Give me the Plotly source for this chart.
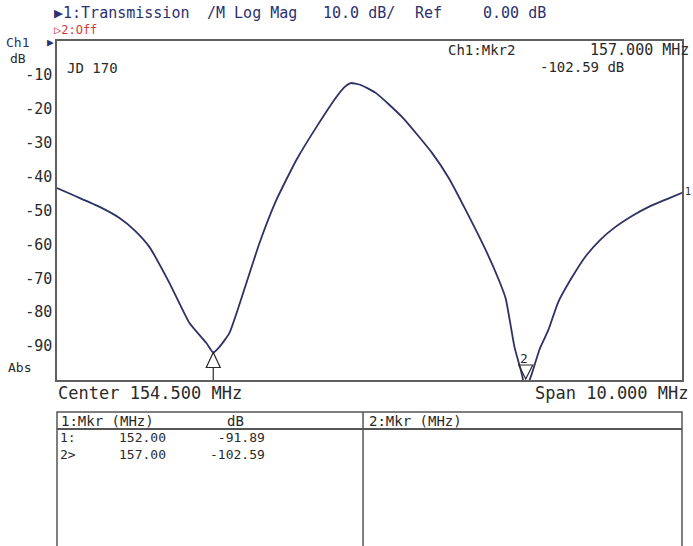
import plotly.graph_objects as go

# ---------------- data ----------------
freq_mhz = [149.50, 149.80, 150.19, 150.50, 150.75, 150.98, 151.30, 151.62, 151.89,
            152.00, 152.10, 152.26, 152.53, 152.74, 153.01, 153.33, 153.65, 153.97,
            154.10, 154.20, 154.35, 154.60, 155.02, 155.50, 155.77, 156.04, 156.36,
            156.57, 156.68, 156.82, 156.92, 157.00, 157.10, 157.22, 157.36, 157.52,
            157.73, 157.95, 158.20, 158.43, 158.70, 158.96, 159.25, 159.50]
s21_db = [-43.4, -45.8, -49.0, -52.2, -56.0, -60.8, -71.4, -83.2, -89.1,
          -91.9, -90.2, -86.1, -71.4, -59.6, -46.9, -35.1, -25.4, -16.5,
          -13.6, -12.4, -12.9, -15.3, -22.4, -33.0, -40.5, -49.9, -61.7,
          -70.5, -76.0, -90.3, -97.0, -102.6, -98.0, -91.0, -85.3, -77.0,
          -70.0, -63.7, -58.5, -54.9, -51.6, -49.0, -46.7, -44.8]

y_tick_vals = [-10, -20, -30, -40, -50, -60, -70, -80, -90]
y_tick_text = ["-10", "-20", "-30", "-40", "-50", "-60", "-70", "-80", "-90"]

mkr_num = ["1", "2"]
mkr_freq = [152.00, 157.00]
mkr_db = [-91.89, -102.59]

center_mhz = 154.5
span_mhz = 10.0
ref_db = 0.0
scale_db = 10.0
trace_label = "JD 170"

# ---------------- layout helpers ----------------
W, H = 693, 546
L, R, T, B = 57, 684, 41, 380
x_min, x_max = center_mhz - span_mhz / 2, center_mhz + span_mhz / 2
y_max = ref_db
y_min = ref_db - 10 * scale_db

def px(x):
    return (x - L) / (R - L)

def py(y):
    return (B - y) / (B - T)

MONO = "DejaVu Sans Mono"
NAVY = "#2b3170"
INK = "#2a2a2a"
TRACE = "#2e3163"
FRAME = "#5f5f5f"

fig = go.Figure()
fig.add_trace(go.Scatter(x=freq_mhz, y=s21_db, mode="lines",
                         line=dict(color=TRACE, width=1.8, shape="spline", smoothing=0.5),
                         hoverinfo="skip", showlegend=False, cliponaxis=True))

annotations = []

def txt(x, y, s, color=INK, size=14, anchor="left", align="left"):
    annotations.append(dict(x=px(x), y=py(y), xref="paper", yref="paper", text=s,
                            showarrow=False, xanchor=anchor, yanchor="middle", align=align,
                            font=dict(family=MONO, size=size, color=color)))

# header
txt(52, 13, "▶1:Transmission", NAVY, 15)
txt(205, 13, "/M Log Mag", NAVY, 15)
txt(322, 13, f"{scale_db:.1f} dB/", NAVY, 15)
txt(414, 13, "Ref", NAVY, 15)
txt(482, 13, f"{ref_db:.2f} dB", NAVY, 15)
txt(52, 30, "▷2:Off", "#d43a3a", 12)
txt(4, 43, "Ch1", NAVY, 13)
txt(45, 43, "▶", NAVY, 11)
txt(8, 59, "dB", INK, 13)
txt(6, 367, "Abs", INK, 13)
txt(65, 68, trace_label, INK, 14)

# active marker readout
active = 1
txt(518, 50, f"Ch1:Mkr{mkr_num[active]}", INK, 14, "right")
txt(693, 50, f"{mkr_freq[active]:.3f} MHz", INK, 15, "right")
txt(628, 67, f"{mkr_db[active]:.2f} dB", INK, 14, "right")

# right-edge reference indicator
txt(685, 191, "1", INK, 10)

# below plot
txt(56, 393, f"Center {center_mhz:.3f} MHz", INK, 17)
txt(693, 393, f"Span {span_mhz:.3f} MHz", INK, 17, "right")

# table text
txt(59, 421, "1:Mkr (MHz)", INK, 14)
txt(226, 421, "dB", INK, 14)
txt(368, 421, "2:Mkr (MHz)", INK, 14)
tags, fcol, dcol = [], [], []
for i in range(len(mkr_num)):
    tags.append(mkr_num[i] + (">" if i == active else ":"))
    fcol.append(f"{mkr_freq[i]:.2f}")
    dcol.append(f"{mkr_db[i]:.2f}")
txt(58, 446, "<br>".join(tags), INK, 13)
txt(168, 446, "<br>".join(fcol), INK, 13, "right", "right")
txt(268, 446, "<br>".join(dcol), INK, 13, "right", "right")

shapes = []
# table boxes
shapes.append(dict(type="rect", xref="paper", yref="paper", x0=px(57), x1=px(684),
                   y0=py(556), y1=py(412), line=dict(color="#555", width=1.5)))
shapes.append(dict(type="line", xref="paper", yref="paper", x0=px(57), x1=px(684),
                   y0=py(429), y1=py(429), line=dict(color="#555", width=2)))
shapes.append(dict(type="line", xref="paper", yref="paper", x0=px(364), x1=px(364),
                   y0=py(556), y1=py(412), line=dict(color="#555", width=1.5)))

# markers
for i in range(len(mkr_num)):
    if mkr_db[i] >= y_min:
        shapes.append(dict(type="line", xref="x", yref="y", x0=mkr_freq[i], x1=mkr_freq[i],
                           y0=y_min, y1=mkr_db[i], line=dict(color=INK, width=1.2)))
        shapes.append(dict(type="path", xref="x", yref="y", xsizemode="pixel", ysizemode="pixel",
                           xanchor=mkr_freq[i], yanchor=mkr_db[i],
                           path="M0,0 L-7,-15 L7,-15 Z", fillcolor="white",
                           line=dict(color=INK, width=1.2)))
    else:
        shapes.append(dict(type="path", xref="x", yref="y", xsizemode="pixel", ysizemode="pixel",
                           xanchor=mkr_freq[i], yanchor=y_min,
                           path="M-7,15 L7,15 L0,1 Z", fillcolor="rgba(0,0,0,0)",
                           line=dict(color=INK, width=1.2)))
        annotations.append(dict(x=mkr_freq[i], y=y_min, xref="x", yref="y", text=mkr_num[i],
                                showarrow=False, yshift=22, xshift=-2, xanchor="center",
                                yanchor="middle",
                                font=dict(family=MONO, size=13, color=INK)))

fig.update_layout(
    width=W, height=H,
    margin=dict(l=L, r=W - R, t=T, b=H - B, pad=0),
    paper_bgcolor="white", plot_bgcolor="white",
    showlegend=False,
    annotations=annotations, shapes=shapes,
    xaxis=dict(range=[x_min, x_max], showgrid=False, zeroline=False, showticklabels=False,
               ticks="", showline=True, mirror=True, linecolor=FRAME, linewidth=1.5,
               fixedrange=True),
    yaxis=dict(range=[y_min, y_max], showgrid=False, zeroline=False, tickmode="array",
               tickvals=y_tick_vals, ticktext=y_tick_text, ticks="",
               tickfont=dict(family=MONO, size=15, color=INK),
               showline=True, mirror=True, linecolor=FRAME, linewidth=1.5,
               fixedrange=True),
)

fig.write_html("out.html", config={"displayModeBar": False},
               post_script="document.body.style.margin='0px';")
